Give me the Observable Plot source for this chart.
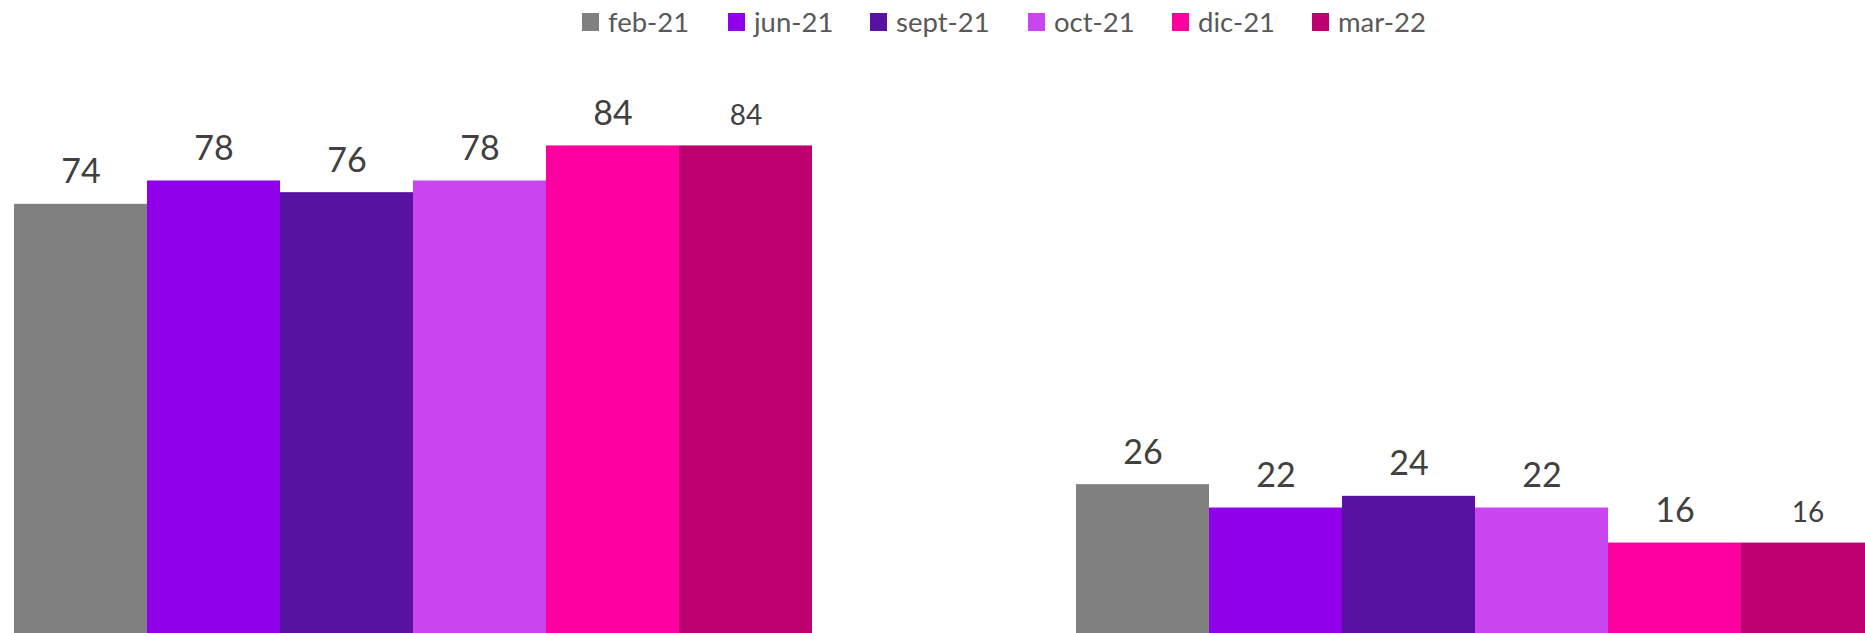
<!DOCTYPE html>
<html>
<head>
<meta charset="utf-8">
<script src="https://cdn.jsdelivr.net/npm/d3@7"></script>
<script src="https://cdn.jsdelivr.net/npm/@observablehq/plot@0.6"></script>
<style>
  html, body { margin: 0; padding: 0; background: #fff; overflow: hidden; width: 1865px; height: 633px; }
  #legend { height: 45px; position: relative; font-family: Lato, "Open Sans", sans-serif; font-size: 27.5px; color: #595959; }
  #legend .items { position: absolute; left: 582px; top: 5px; display: flex; gap: 0; }
  #legend .item { display: flex; align-items: center; }
  #legend .sw { width: 17px; height: 18px; margin-right: 9px; }
  #chart svg { display: block; overflow: visible; max-width: none !important; width: 1874px !important; height: 591px !important; }
</style>
</head>
<body>
<div id="legend"><div class="items"></div></div>
<div id="chart"></div>
<script>
const groups = ["Sí", "No"];
const dates = ["feb-21", "jun-21", "sept-21", "oct-21", "dic-21", "mar-22"];
const siValues = [74, 78, 76, 78, 84, 84];
const noValues = [26, 22, 24, 22, 16, 16];
const colors = ["#808080", "#9000EB", "#5712A1", "#C845F0", "#FF00A0", "#BC0070"];
const legendWidths = [146, 142, 158, 144, 140, 120];

const data = [];
dates.forEach((d, i) => data.push({group: groups[0], date: d, value: siValues[i]}));
dates.forEach((d, i) => data.push({group: groups[1], date: d, value: noValues[i]}));

// Legend
const items = document.querySelector("#legend .items");
dates.forEach((d, i) => {
  const it = document.createElement("div");
  it.className = "item";
  it.style.width = legendWidths[i] + "px";
  const sw = document.createElement("span");
  sw.className = "sw";
  sw.style.background = colors[i];
  const tx = document.createElement("span");
  tx.textContent = d;
  it.appendChild(sw);
  it.appendChild(tx);
  items.appendChild(it);
});

const chart = Plot.plot({
  width: 1874,
  height: 591,
  marginTop: 7,
  marginBottom: 0,
  marginLeft: 14,
  marginRight: 0,
  style: {fontFamily: "Lato, 'Open Sans', sans-serif", background: "transparent", overflow: "visible"},
  fx: {domain: groups, paddingInner: 0.2486, paddingOuter: 0, round: false, axis: null},
  x: {domain: dates, padding: 0, round: false, axis: null},
  y: {domain: [0, 100], axis: null},
  color: {domain: dates, range: colors},
  marks: [
    Plot.barY(data, {fx: "group", x: "date", y: "value", fill: "date"}),
    Plot.text(data, {
      fx: "group", x: "date", y: "value", text: d => String(d.value),
      dy: -21, lineAnchor: "bottom", fill: "#404040",
      fontSize: d => d.date === "mar-22" ? 28 : 34
    })
  ]
});
document.getElementById("chart").appendChild(chart);
</script>
</body>
</html>
